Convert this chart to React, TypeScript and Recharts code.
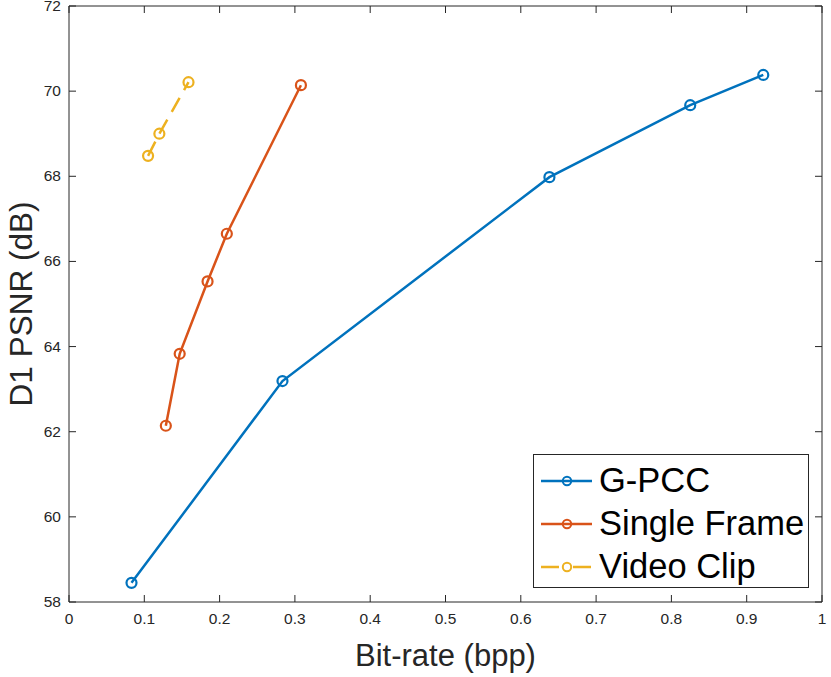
import { LineChart, Line, XAxis, YAxis, Legend, ReferenceLine } from "recharts";

const gpccRate = [0.083, 0.2835, 0.638, 0.825, 0.922];
const gpccPsnr = [58.45, 63.19, 67.98, 69.67, 70.38];
const singleRate = [0.1286, 0.147, 0.184, 0.2096, 0.308];
const singlePsnr = [62.14, 63.83, 65.53, 66.65, 70.14];
const clipRate = [0.105, 0.12, 0.1587];
const clipPsnr = [68.48, 69.0, 70.21];

const xTicks = [0, 0.1, 0.2, 0.3, 0.4, 0.5, 0.6, 0.7, 0.8, 0.9, 1];
const yTicks = [58, 60, 62, 64, 66, 68, 70, 72];

const FONT = '"Liberation Sans", Arial, Helvetica, sans-serif';
const AXIS = "#262626";
const PLOT_TOP = 6;
const PLOT_RIGHT = 822;

const toPoints = (xs: number[], ys: number[]) => xs.map((x, i) => ({ x, y: ys[i] }));

const series = [
  { name: "G-PCC", color: "#0072BD", dash: undefined as string | undefined, data: toPoints(gpccRate, gpccPsnr) },
  { name: "Single Frame", color: "#D95319", dash: undefined as string | undefined, data: toPoints(singleRate, singlePsnr) },
  { name: "Video Clip", color: "#EDB120", dash: "16 9", data: toPoints(clipRate, clipPsnr) },
];

const XTick = (props: any) => {
  const { x, y, payload } = props;
  return (
    <g>
      <line x1={x} x2={x} y1={y} y2={y - 7} stroke={AXIS} />
      <line x1={x} x2={x} y1={PLOT_TOP} y2={PLOT_TOP + 7} stroke={AXIS} />
      <text x={x} y={y + 22} textAnchor="middle" fontSize={15.5} fill={AXIS}>
        {payload.value}
      </text>
    </g>
  );
};

const YTick = (props: any) => {
  const { x, y, payload } = props;
  return (
    <g>
      <line x1={x} x2={x + 7} y1={y} y2={y} stroke={AXIS} />
      <line x1={PLOT_RIGHT} x2={PLOT_RIGHT - 7} y1={y} y2={y} stroke={AXIS} />
      <text x={x - 8} y={y + 5} textAnchor="end" fontSize={15.5} fill={AXIS}>
        {payload.value}
      </text>
    </g>
  );
};

const XLabel = (props: any) => {
  const { viewBox } = props;
  const cx = viewBox.x + viewBox.width / 2;
  return (
    <text x={cx} y={viewBox.y + 64} textAnchor="middle" fontSize={31} fill={AXIS}>
      Bit-rate (bpp)
    </text>
  );
};

const YLabel = (props: any) => {
  const { viewBox } = props;
  const cy = viewBox.y + viewBox.height / 2;
  return (
    <text x={32} y={cy} textAnchor="middle" fontSize={31.5} fill={AXIS} transform={`rotate(-90, 32, ${cy})`}>
      D1 PSNR (dB)
    </text>
  );
};

const renderLegend = () => (
  <div
    style={{
      width: 276,
      height: 134,
      border: `1px solid ${AXIS}`,
      background: "#fff",
      boxSizing: "border-box",
      paddingTop: 4,
      fontFamily: FONT,
    }}
  >
    {series.map((s) => (
      <div key={s.name} style={{ display: "flex", alignItems: "center", height: 43 }}>
        <svg width={65} height={20} style={{ flex: "none" }}>
          <line x1={7} x2={58} y1={10} y2={10} stroke={s.color} strokeWidth={2.5} strokeDasharray={s.dash ? "18 14" : undefined} />
          <circle cx={33} cy={10} r={4.2} fill="none" stroke={s.color} strokeWidth={2} />
        </svg>
        <span style={{ fontSize: 34.5, color: "#000", lineHeight: 1 }}>{s.name}</span>
      </div>
    ))}
  </div>
);

export default function App() {
  return (
    <div style={{ position: "fixed", left: 0, top: 0, width: 831, height: 677, background: "#fff", fontFamily: FONT }}>
      <LineChart width={831} height={677} margin={{ top: PLOT_TOP, right: 831 - PLOT_RIGHT, left: 0, bottom: 0 }}>
        <XAxis
          type="number"
          dataKey="x"
          domain={[0, 1]}
          ticks={xTicks}
          interval={0}
          tickSize={0}
          tickMargin={0}
          tickLine={false}
          tick={<XTick />}
          height={75}
          stroke={AXIS}
          allowDataOverflow
          label={<XLabel />}
        />
        <YAxis
          type="number"
          dataKey="y"
          domain={[58, 72]}
          ticks={yTicks}
          interval={0}
          tickSize={0}
          tickMargin={0}
          tickLine={false}
          tick={<YTick />}
          width={69}
          stroke={AXIS}
          allowDataOverflow
          label={<YLabel />}
        />
        <ReferenceLine y={72} stroke={AXIS} strokeWidth={1} />
        <ReferenceLine x={1} stroke={AXIS} strokeWidth={1} />
        {series.map((s) => (
          <Line
            key={s.name}
            data={s.data}
            dataKey="y"
            name={s.name}
            type="linear"
            stroke={s.color}
            strokeWidth={2.5}
            strokeDasharray={s.dash}
            dot={{ r: 5, fill: "none", stroke: s.color, strokeWidth: 2.2, strokeDasharray: "none" }}
            activeDot={false}
            isAnimationActive={false}
          />
        ))}
        <Legend
          layout="horizontal"
          verticalAlign="middle"
          align="center"
          content={renderLegend}
          wrapperStyle={{ position: "absolute", left: 533, top: 454, width: "auto", height: "auto" }}
        />
      </LineChart>
    </div>
  );
}
